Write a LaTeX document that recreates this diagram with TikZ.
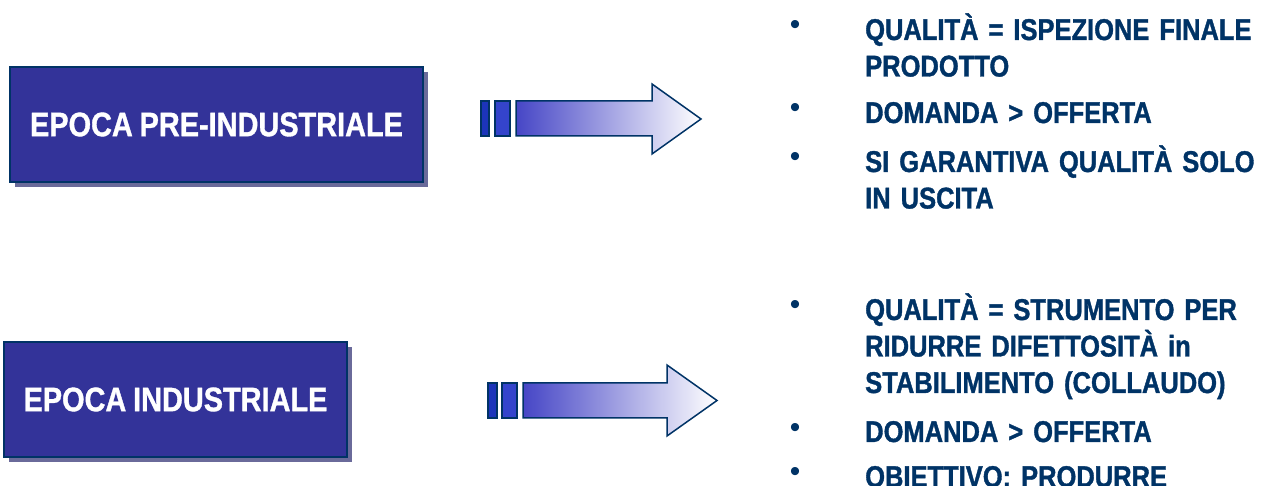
\documentclass[tikz,border=0pt]{standalone}
\usepackage{fontspec}
\setmainfont{Liberation Sans}
\newfontfamily\itemfont[FakeStretch=0.85,WordSpace=0.8,BoldFeatures={FakeBold=1.2}]{Liberation Sans}
\newfontfamily\boxfont[FakeStretch=0.85,WordSpace=0.85,BoldFeatures={FakeBold=1}]{Liberation Sans}
\usetikzlibrary{shadows}
\definecolor{navy}{RGB}{0,51,102}
\definecolor{boxfill}{RGB}{51,51,153}
\definecolor{shadowc}{RGB}{106,106,154}
\definecolor{barA}{RGB}{28,52,186}
\definecolor{barB}{RGB}{52,68,204}
\definecolor{arrowL}{RGB}{70,70,198}
\definecolor{arrowM}{RGB}{200,200,234}
\tikzset{
  epoca/.style={draw=navy, line width=1.5pt, fill=boxfill, text=white,
    font=\boxfont\bfseries\fontsize{34}{40}\selectfont, inner sep=0pt,
    general shadow={fill=shadowc, shadow xshift=5pt, shadow yshift=-5pt}},
  itemtext/.style={anchor=base west, inner sep=0pt, text=navy, text width=420pt, align=left,
    font=\itemfont\bfseries\fontsize{30}{36.5}\selectfont},
  bul/.style={anchor=base, inner sep=0pt, text=navy, font=\fontsize{30}{36}\selectfont},
  bar/.style={draw=navy, line width=1.2pt},
  bigarrow/.style={draw=navy, line width=1.5pt, left color=arrowL, middle color=arrowM, right color=white}
}
\begin{document}
\begin{tikzpicture}[x=1pt,y=-1pt]
\useasboundingbox (0,0) rectangle (1270,486);
\clip (0,0) rectangle (1270,486);
% boxes
\node[epoca, minimum width=413pt, minimum height=115pt] (b1) at (216.5,124.5) {EPOCA PRE-INDUSTRIALE};
\node[epoca, minimum width=343pt, minimum height=115pt] (b2) at (175.5,399.5) {EPOCA INDUSTRIALE};
% arrow 1
\fill[bar, fill=barA] (481,101) rectangle (489,136);
\fill[bar, fill=barB] (495,101) rectangle (510,136);
\path[bigarrow] (516,101) -- (652,101) -- (652,84) -- (701,119) -- (652,154) -- (652,136) -- (516,136) -- cycle;
% arrow 2
\fill[bar, fill=barA] (488,383) rectangle (497,418);
\fill[bar, fill=barB] (502,383) rectangle (517,418);
\path[bigarrow] (523,383) -- (667,383) -- (667,365) -- (717,400.5) -- (667,436) -- (667,418) -- (523,418) -- cycle;
% upper list
\node[bul] (u1b) at (795,35) {•};
\node[itemtext] (u1) at (865,40) {QUALITÀ = ISPEZIONE FINALE\\PRODOTTO};
\node[bul] (u2b) at (795,118) {•};
\node[itemtext] (u2) at (865,123) {DOMANDA > OFFERTA};
\node[bul] (u3b) at (795,167) {•};
\node[itemtext] (u3) at (865,172) {SI GARANTIVA QUALITÀ SOLO\\IN USCITA};
% lower list
\node[bul] (l1b) at (795,315) {•};
\node[itemtext] (l1) at (865,320) {QUALITÀ = STRUMENTO PER\\RIDURRE DIFETTOSITÀ in\\STABILIMENTO (COLLAUDO)};
\node[bul] (l2b) at (795,437) {•};
\node[itemtext] (l2) at (865,442) {DOMANDA > OFFERTA};
\node[bul] (l3b) at (795,482) {•};
\node[itemtext] (l3) at (865,487) {OBIETTIVO: PRODURRE};
\end{tikzpicture}
\end{document}
